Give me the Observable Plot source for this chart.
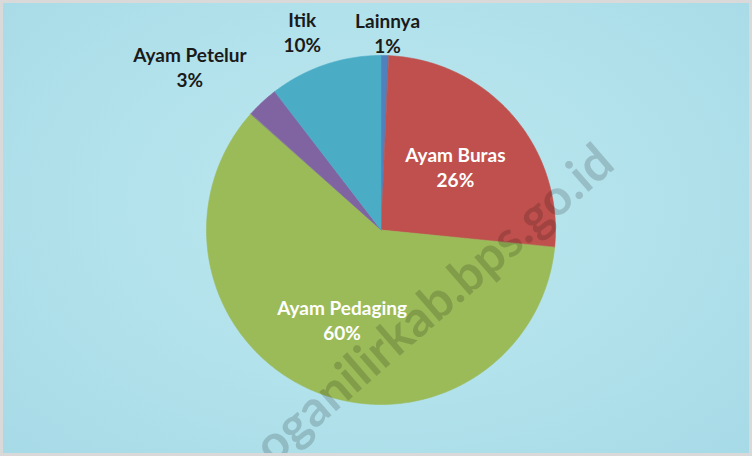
<!DOCTYPE html>
<html>
<head>
<meta charset="utf-8">
<script src="https://cdn.jsdelivr.net/npm/d3@7"></script>
<script src="https://cdn.jsdelivr.net/npm/@observablehq/plot@0.6"></script>
<style>
  html, body { margin: 0; padding: 0; background: #ffffff; }
  #chart svg {
    display: block;
    background: radial-gradient(ellipse at 50% 45%, #bde7ef 0%, #b0e1eb 60%, #a6dae6 100%);
    outline: 3px solid #d9d9d9;
    outline-offset: -3px;
  }
</style>
</head>
<body>
<div id="chart"></div>
<script>
// ---- data ----
const categories = ["Lainnya", "Ayam Buras", "Ayam Pedaging", "Ayam Petelur", "Itik"];
const values = [0.7, 25.9, 60.0, 3.0, 10.4];          // percent shares
const insideLabels = ["Ayam Buras", "Ayam Pedaging"]; // labels drawn inside their slice
const watermark = "oganilirkab.bps.go.id";

// ---- style / layout ----
const palette = ["#4f81bd", "#c0504d", "#9bbb59", "#8064a2", "#4bacc6"];
const W = 752, H = 456;
const R = 174.5;                 // pie radius in px
const cx = 381, cy = 230;        // pie centre in px
const fontFamily = "Lato, 'Open Sans', sans-serif";
const fontSize = 19;
const lineHeightPx = 25;

// scales: 1 data unit = R pixels, centre at (0,0)
const xDomain = [-cx / R, (W - cx) / R];
const yDomain = [-(H - cy) / R, cy / R];

// ---- pie geometry from data ----
const arcs = d3.pie().sort(null).value(d => d)(values);
const wedgePts = [];
arcs.forEach((a, i) => {
  const n = Math.max(2, Math.ceil((a.endAngle - a.startAngle) / (Math.PI / 360)));
  for (let k = 0; k <= n; k++) {
    const t = a.startAngle + (a.endAngle - a.startAngle) * k / n;
    wedgePts.push({cat: categories[i], x: Math.sin(t), y: Math.cos(t)});
  }
});

// ---- labels ----
const canvas = document.createElement("canvas");
const ctx = canvas.getContext("2d");
ctx.font = `bold ${fontSize}px ${fontFamily}`;
const clamp = v => Math.max(-1, Math.min(1, v));
const labels = arcs.map((a, i) => {
  const name = categories[i];
  const pct = Math.round(values[i]) + "%";
  const th = (a.startAngle + a.endAngle) / 2;
  const s = Math.sin(th), c = Math.cos(th);
  let px, py;
  const inside = insideLabels.includes(name);
  if (inside) {
    px = 0.56 * R * s; py = -0.56 * R * c;
  } else {
    const w = Math.max(ctx.measureText(name).width, ctx.measureText(pct).width);
    const h = lineHeightPx + 12;
    const g = 4 + 20 * Math.abs(Math.sin(2 * th));
    const tx = (R + g) * s, ty = -(R + g) * c;
    px = tx + (w / 2) * clamp(3 * s);
    py = ty - (h / 2) * clamp(3 * c);
  }
  return {text: name + "\n" + pct, x: px / R, y: -py / R, inside};
});

const chart = Plot.plot({
  width: W,
  height: H,
  margin: 0,
  x: {domain: xDomain, axis: null},
  y: {domain: yDomain, axis: null},
  color: {domain: categories, range: palette},
  marks: [
    Plot.area(wedgePts, {
      x1: "x", y1: "y", x2: 0, y2: 0,
      z: "cat", fill: "cat", stroke: "cat", strokeWidth: 0.6,
      curve: "linear"
    }),
    Plot.text(labels, {
      x: "x", y: "y", text: "text",
      fill: d => d.inside ? "#ffffff" : "#1a1a1a",
      fontSize, fontWeight: "bold", fontFamily,
      lineHeight: lineHeightPx / fontSize,
      lineAnchor: "middle", textAnchor: "middle"
    }),
    Plot.text([watermark], {
      x: (434 - cx) / R, y: (cy - 304) / R, text: d => d,
      rotate: -41, fontSize: 50, fontWeight: "bold", fontFamily,
      fill: "#000000", fillOpacity: 0.16
    })
  ]
});
chart.style.background = "";
document.getElementById("chart").append(chart);
</script>
</body>
</html>
